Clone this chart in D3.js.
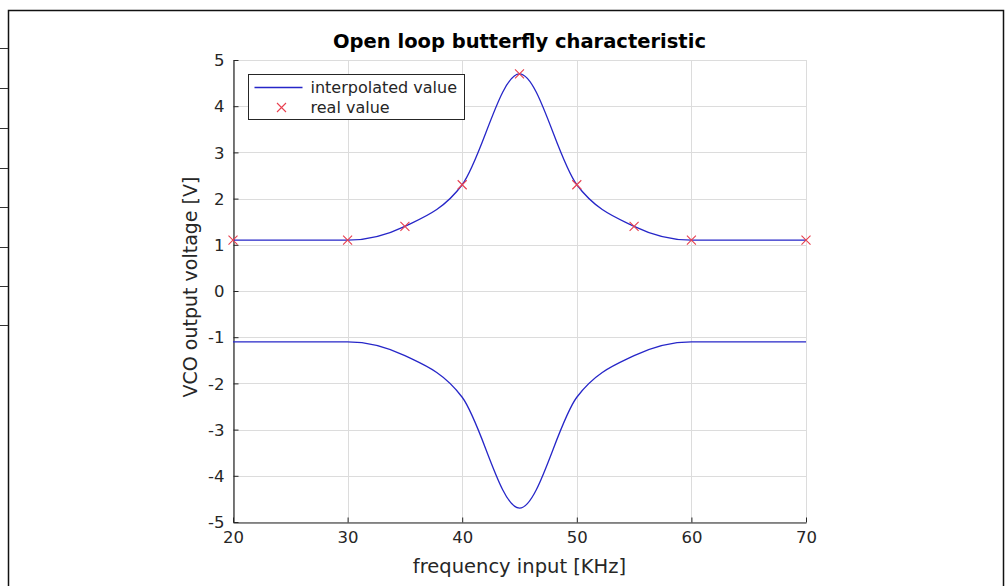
<!DOCTYPE html>
<html>
<head>
<meta charset="utf-8">
<script src="https://cdn.jsdelivr.net/npm/d3@7"></script>
<style>
    body { margin: 0; background: #fff; }
    text { font-family: "DejaVu Sans", sans-serif; }
</style>
</head>
<body>
<div id="chart"></div>
<script>
(function () {

    // measured points (KHz, V)
    var freq = [20, 30, 35, 40, 45, 50, 55, 60, 70];
    var voltUp = [1.1, 1.1, 1.4, 2.3, 4.7, 2.3, 1.4, 1.1, 1.1];
    var voltDown = [-1.1, -1.1, -1.4, -2.3, -4.7, -2.3, -1.4, -1.1, -1.1];
    var xTicks = [20, 30, 40, 50, 60, 70];
    var yTicks = [-5, -4, -3, -2, -1, 0, 1, 2, 3, 4, 5];
    var legendLabels = ["interpolated value", "real value"];

    var W = 1005, H = 586;
    var left = 233, right = 806, top = 60, bottom = 522;
    var blue = "#2626c8", red = "#e8404f", ink = "#262626";

    var svg = d3.select("#chart").append("svg")
        .attr("width", W)
        .attr("height", H);

    // frame of the page around the figure
    svg.append("path")
        .attr("d", "M8.5," + H + "V10.5H1003.5V" + H)
        .attr("fill", "none")
        .attr("stroke", "#111")
        .attr("stroke-width", 1.5);
    [48, 88, 128, 168, 207, 247, 286, 325].forEach(function (y) {
        svg.append("line")
            .attr("x1", 0).attr("x2", 8)
            .attr("y1", y + 0.5).attr("y2", y + 0.5)
            .attr("stroke", "#333");
    });

    var x = d3.scaleLinear().domain([20, 70]).range([left, right]);
    var y = d3.scaleLinear().domain([-5, 5]).range([bottom, top]);

    // grid
    var grid = svg.append("g").attr("class", "grid");
    grid.selectAll("line.gx").data(xTicks).enter().append("line")
        .attr("x1", function (d) {return Math.round(x(d)) + 0.5;})
        .attr("x2", function (d) {return Math.round(x(d)) + 0.5;})
        .attr("y1", top).attr("y2", bottom)
        .attr("stroke", "#dcdcdc");
    grid.selectAll("line.gy").data(yTicks).enter().append("line")
        .attr("y1", function (d) {return Math.round(y(d)) + 0.5;})
        .attr("y2", function (d) {return Math.round(y(d)) + 0.5;})
        .attr("x1", left).attr("x2", right)
        .attr("stroke", "#dcdcdc");

    // axes, ticks inside, plain hyphen for minus
    var plain = function (d) {return String(d);};
    var xAxis = svg.append("g")
        .attr("transform", "translate(0," + (bottom + 0.5) + ")")
        .call(d3.axisBottom(x).tickValues(xTicks).tickFormat(plain).tickSizeInner(-5).tickSizeOuter(0).tickPadding(11));
    var yAxis = svg.append("g")
        .attr("transform", "translate(" + (left + 0.5) + ",0)")
        .call(d3.axisLeft(y).tickValues(yTicks).tickFormat(plain).tickSizeInner(-5).tickSizeOuter(0).tickPadding(9));

    [xAxis, yAxis].forEach(function (a) {
        a.select(".domain").attr("stroke", ink).attr("stroke-width", 1.2);
        a.selectAll(".tick line").attr("stroke", ink);
        a.selectAll(".tick text")
            .attr("fill", ink)
            .style("font-family", "DejaVu Sans")
            .style("font-size", "16.5px");
    });
    yAxis.selectAll(".tick text").attr("dy", "0.35em");
    xAxis.selectAll(".tick text").attr("dy", "0.55em");

    // curves
    var line = d3.line()
        .x(function (d) {return x(d[0]);})
        .y(function (d) {return y(d[1]);})
        .curve(d3.curveMonotoneX);

    [voltUp, voltDown].forEach(function (v) {
        svg.append("path")
            .datum(freq.map(function (f, i) {return [f, v[i]];}))
            .attr("d", line)
            .attr("fill", "none")
            .attr("stroke", blue)
            .attr("stroke-width", 1.3);
    });

    function cross(g, cx, cy) {
        var s = 4.5;
        g.append("path")
            .attr("d", "M" + (cx - s) + "," + (cy - s) + "L" + (cx + s) + "," + (cy + s) +
                "M" + (cx - s) + "," + (cy + s) + "L" + (cx + s) + "," + (cy - s))
            .attr("stroke", red)
            .attr("stroke-width", 1.1)
            .attr("fill", "none");
    }

    var marks = svg.append("g");
    freq.forEach(function (f, i) {
        cross(marks, x(f), y(voltUp[i]));
    });

    // labels
    svg.append("text")
        .attr("x", (left + right) / 2)
        .attr("y", 48)
        .attr("text-anchor", "middle")
        .style("font-size", "19.5px")
        .style("font-weight", "bold")
        .attr("fill", "#000")
        .text("Open loop butterfly characteristic");

    svg.append("text")
        .attr("x", (left + right) / 2)
        .attr("y", 573)
        .attr("text-anchor", "middle")
        .style("font-size", "19.5px")
        .attr("fill", ink)
        .text("frequency input [KHz]");

    svg.append("text")
        .attr("transform", "translate(197," + ((top + bottom) / 2 - 4) + ") rotate(-90)")
        .attr("text-anchor", "middle")
        .style("font-size", "19px")
        .attr("fill", ink)
        .text("VCO output voltage [V]");

    // legend
    var lg = svg.append("g").attr("transform", "translate(248.5,74.5)");
    lg.append("rect")
        .attr("width", 216).attr("height", 45)
        .attr("fill", "#fff")
        .attr("stroke", ink);
    lg.append("line")
        .attr("x1", 6).attr("x2", 54)
        .attr("y1", 13).attr("y2", 13)
        .attr("stroke", blue).attr("stroke-width", 1.3);
    cross(lg, 33, 33);
    lg.selectAll("text.lab").data(legendLabels).enter().append("text")
        .attr("x", 62)
        .attr("y", function (d, i) {return 13 + i * 20;})
        .attr("dy", "0.35em")
        .style("font-size", "16px")
        .attr("fill", ink)
        .text(function (d) {return d;});

})();
</script>
</body>
</html>
